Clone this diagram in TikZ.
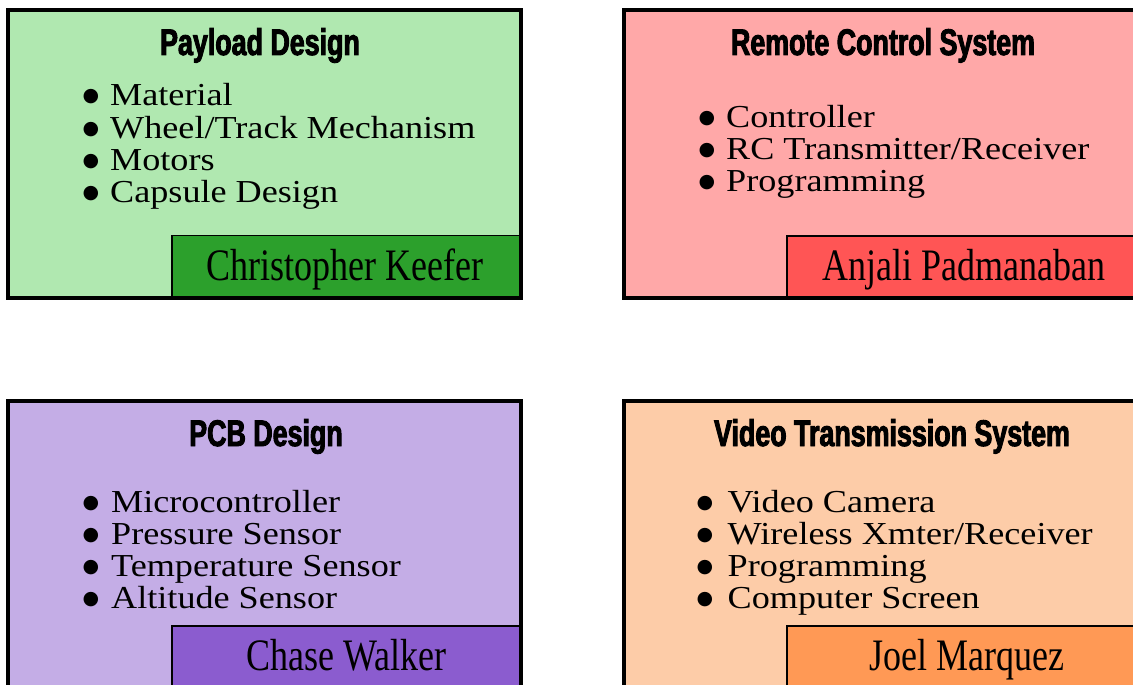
\documentclass[tikz,border=0pt]{standalone}
\usepackage{fontspec}
\setmainfont{Liberation Serif}
\newfontfamily\titlefont[FakeStretch=0.725,BoldFeatures={FakeBold=2.5}]{Liberation Sans}
\newfontfamily\bodyfont[FakeStretch=1.13]{Liberation Serif}
\newfontfamily\namefont[FakeStretch=0.8]{Liberation Serif}
\newfontfamily\symfont{DejaVu Sans}
\definecolor{gA}{RGB}{176,232,176}
\definecolor{gB}{RGB}{44,160,44}
\definecolor{rA}{RGB}{255,168,168}
\definecolor{rB}{RGB}{255,85,85}
\definecolor{pA}{RGB}{196,173,230}
\definecolor{pB}{RGB}{139,92,207}
\definecolor{oA}{RGB}{253,204,168}
\definecolor{oB}{RGB}{255,153,85}
\newcommand\bul[2]{\makebox[#1][l]{\hspace*{-1pt}\raisebox{4pt}{\symfont\fontsize{19}{19}\selectfont ●}}#2}
\begin{document}
\begin{tikzpicture}[x=1pt,y=-1pt,
  outerbox/.style={draw=black,line width=4pt},
  namebox/.style={draw=black,line width=1.5pt},
  titlestyle/.style={font=\titlefont\bfseries\fontsize{37}{37}\selectfont,anchor=base,inner sep=0pt},
  itemstyle/.style={font=\bodyfont\fontsize{32}{32}\selectfont,anchor=base west,inner sep=0pt},
  namestyle/.style={font=\namefont\fontsize{45}{45}\selectfont,anchor=base,inner sep=0pt}]
\useasboundingbox (0,0) rectangle (1133,685);
\clip (0,0) rectangle (1133,685);
\fill[white] (0,0) rectangle (1133,685);
% top-left
\fill[gA] (8,10.5) rectangle (521,297.5);
\filldraw[fill=gB,namebox] (172,235.5) rectangle (521,297.5);
\draw[outerbox] (8,10.5) rectangle (521,297.5);
% top-right
\fill[rA] (624,10.5) rectangle (1137,297.5);
\filldraw[fill=rB,namebox] (787,236) rectangle (1137,297.5);
\draw[outerbox] (624,10.5) rectangle (1137,297.5);
% bottom-left
\fill[pA] (8,400.5) rectangle (521,687.5);
\filldraw[fill=pB,namebox] (172,626) rectangle (521,687.5);
\draw[outerbox] (8,400.5) rectangle (521,687.5);
% bottom-right
\fill[oA] (624,400.5) rectangle (1137,687.5);
\filldraw[fill=oB,namebox] (787,626) rectangle (1137,687.5);
\draw[outerbox] (624,400.5) rectangle (1137,687.5);
% titles
\node[titlestyle] (t1) at (260,55) {Payload Design};
\node[titlestyle] (t2) at (883,55) {Remote Control System};
\node[titlestyle] (t3) at (266,446) {PCB Design};
\node[titlestyle] (t4) at (892,446) {Video Transmission System};
% lists
\node[itemstyle] (a1) at (83.5,106) {\bul{26.5pt}{Material}};
\node[itemstyle] (a2) at (83.5,138) {\bul{26.5pt}{Wheel/Track Mechanism}};
\node[itemstyle] (a3) at (83.5,170) {\bul{26.5pt}{Motors}};
\node[itemstyle] (a4) at (83.5,202) {\bul{26.5pt}{Capsule Design}};
\node[itemstyle] (b1) at (699.5,127) {\bul{26.5pt}{Controller}};
\node[itemstyle] (b2) at (699.5,159) {\bul{26.5pt}{RC Transmitter/Receiver}};
\node[itemstyle] (b3) at (699.5,191) {\bul{26.5pt}{Programming}};
\node[itemstyle] (c1) at (83.5,512) {\bul{27.5pt}{Microcontroller}};
\node[itemstyle] (c2) at (83.5,544) {\bul{27.5pt}{Pressure Sensor}};
\node[itemstyle] (c3) at (83.5,576) {\bul{27.5pt}{Temperature Sensor}};
\node[itemstyle] (c4) at (83.5,608) {\bul{27.5pt}{Altitude Sensor}};
\node[itemstyle] (d1) at (697.5,512) {\bul{30pt}{Video Camera}};
\node[itemstyle] (d2) at (697.5,544) {\bul{30pt}{Wireless Xmter/Receiver}};
\node[itemstyle] (d3) at (697.5,576) {\bul{30pt}{Programming}};
\node[itemstyle] (d4) at (697.5,608) {\bul{30pt}{Computer Screen}};
% names
\node[namestyle] (n1) at (345,280) {Christopher Keefer};
\node[namestyle] (n2) at (964,280) {Anjali Padmanaban};
\node[namestyle] (n3) at (346.5,670) {Chase Walker};
\node[namestyle] (n4) at (967,670) {Joel Marquez};
\end{tikzpicture}
\end{document}
